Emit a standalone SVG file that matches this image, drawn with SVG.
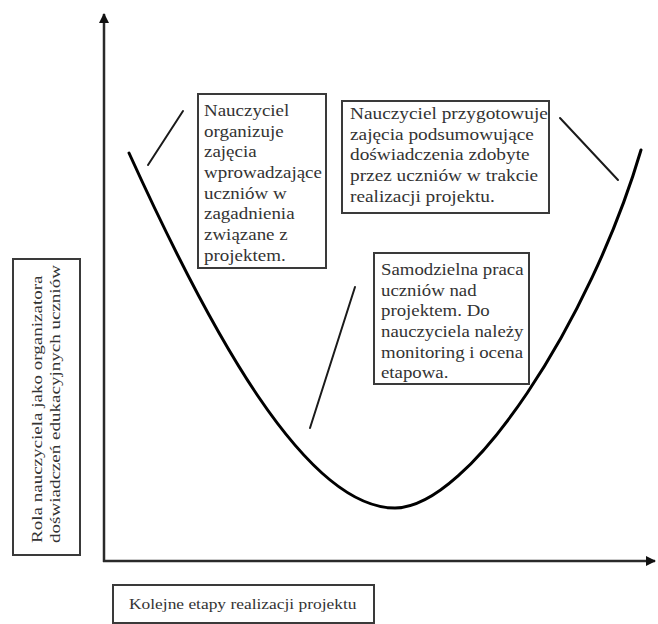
<svg xmlns="http://www.w3.org/2000/svg" width="658" height="624" viewBox="0 0 658 624">
<defs>
<style>
.box{fill:#fff;stroke:#3a3a3a;stroke-width:2}
.txt{font-family:"Liberation Serif","Times New Roman",serif;font-size:16.8px;fill:#333}
.lbl{font-family:"Liberation Serif","Times New Roman",serif;font-size:15px;fill:#333}
.ptr{stroke:#1a1a1a;stroke-width:2;fill:none;stroke-linecap:round}
.axis{stroke:#2a2a2a;stroke-width:2.5;fill:none}
.curve{stroke:#000;stroke-width:3;fill:none;stroke-linecap:round}
</style>
<marker id="arr" viewBox="0 0 10 10" refX="9" refY="5" markerWidth="4" markerHeight="4" orient="auto" markerUnits="strokeWidth">
<path d="M0,0 L10,5 L0,10 z" fill="#111"/>
</marker>
</defs>
<rect width="658" height="624" fill="#fff"/>
<g id="connectors">
<line class="axis" x1="104" y1="562" x2="104" y2="14" marker-end="url(#arr)"/>
<line class="axis" x1="103" y1="561" x2="655" y2="561" marker-end="url(#arr)"/>
<path class="curve" d="M129,153 C209,329 305,508 395,508 C470,508 591,320 641,150"/>
<line class="ptr" x1="183" y1="111" x2="148" y2="165"/>
<line class="ptr" x1="560" y1="118" x2="618" y2="180"/>
<line class="ptr" x1="355" y1="287" x2="310" y2="428"/>
</g>
<g id="node-intro">
<rect class="box" x="198" y="94" width="128" height="174"/>
<text class="txt" transform="translate(204,116) scale(1.13,1)">
<tspan x="0" y="0">Nauczyciel</tspan>
<tspan x="0" y="20.7">organizuje</tspan>
<tspan x="0" y="41.4">zajęcia</tspan>
<tspan x="0" y="62.1">wprowadzające</tspan>
<tspan x="0" y="82.8">uczniów w</tspan>
<tspan x="0" y="103.5">zagadnienia</tspan>
<tspan x="0" y="124.2">związane z</tspan>
<tspan x="0" y="144.9">projektem.</tspan>
</text>
</g>
<g id="node-summary">
<rect class="box" x="342" y="101" width="207" height="112"/>
<text class="txt" transform="translate(350,119) scale(1.15,1)">
<tspan x="0" y="0">Nauczyciel przygotowuje</tspan>
<tspan x="0" y="20.7">zajęcia podsumowujące</tspan>
<tspan x="0" y="41.4">doświadczenia zdobyte</tspan>
<tspan x="0" y="62.1">przez uczniów w trakcie</tspan>
<tspan x="0" y="82.8">realizacji projektu.</tspan>
</text>
</g>
<g id="node-work">
<rect class="box" x="374" y="253" width="155" height="131"/>
<text class="txt" transform="translate(381,275) scale(1.12,1)">
<tspan x="0" y="0">Samodzielna praca</tspan>
<tspan x="0" y="20.7">uczniów nad</tspan>
<tspan x="0" y="41.4">projektem. Do</tspan>
<tspan x="0" y="62.1">nauczyciela należy</tspan>
<tspan x="0" y="82.8">monitoring i ocena</tspan>
<tspan x="0" y="103.5">etapowa.</tspan>
</text>
</g>
<g id="label-y">
<rect class="box" x="13" y="259" width="67" height="296"/>
<text class="lbl" transform="translate(42,543) rotate(-90) scale(1.27,1)">
<tspan x="0" y="0">Rola nauczyciela jako organizatora</tspan>
<tspan x="0" y="18">doświadczeń edukacyjnych uczniów</tspan>
</text>
</g>
<g id="label-x">
<rect class="box" x="113" y="585" width="261" height="38"/>
<text class="lbl" transform="translate(129,609) scale(1.16,1)">Kolejne etapy realizacji projektu</text>
</g>
</svg>
